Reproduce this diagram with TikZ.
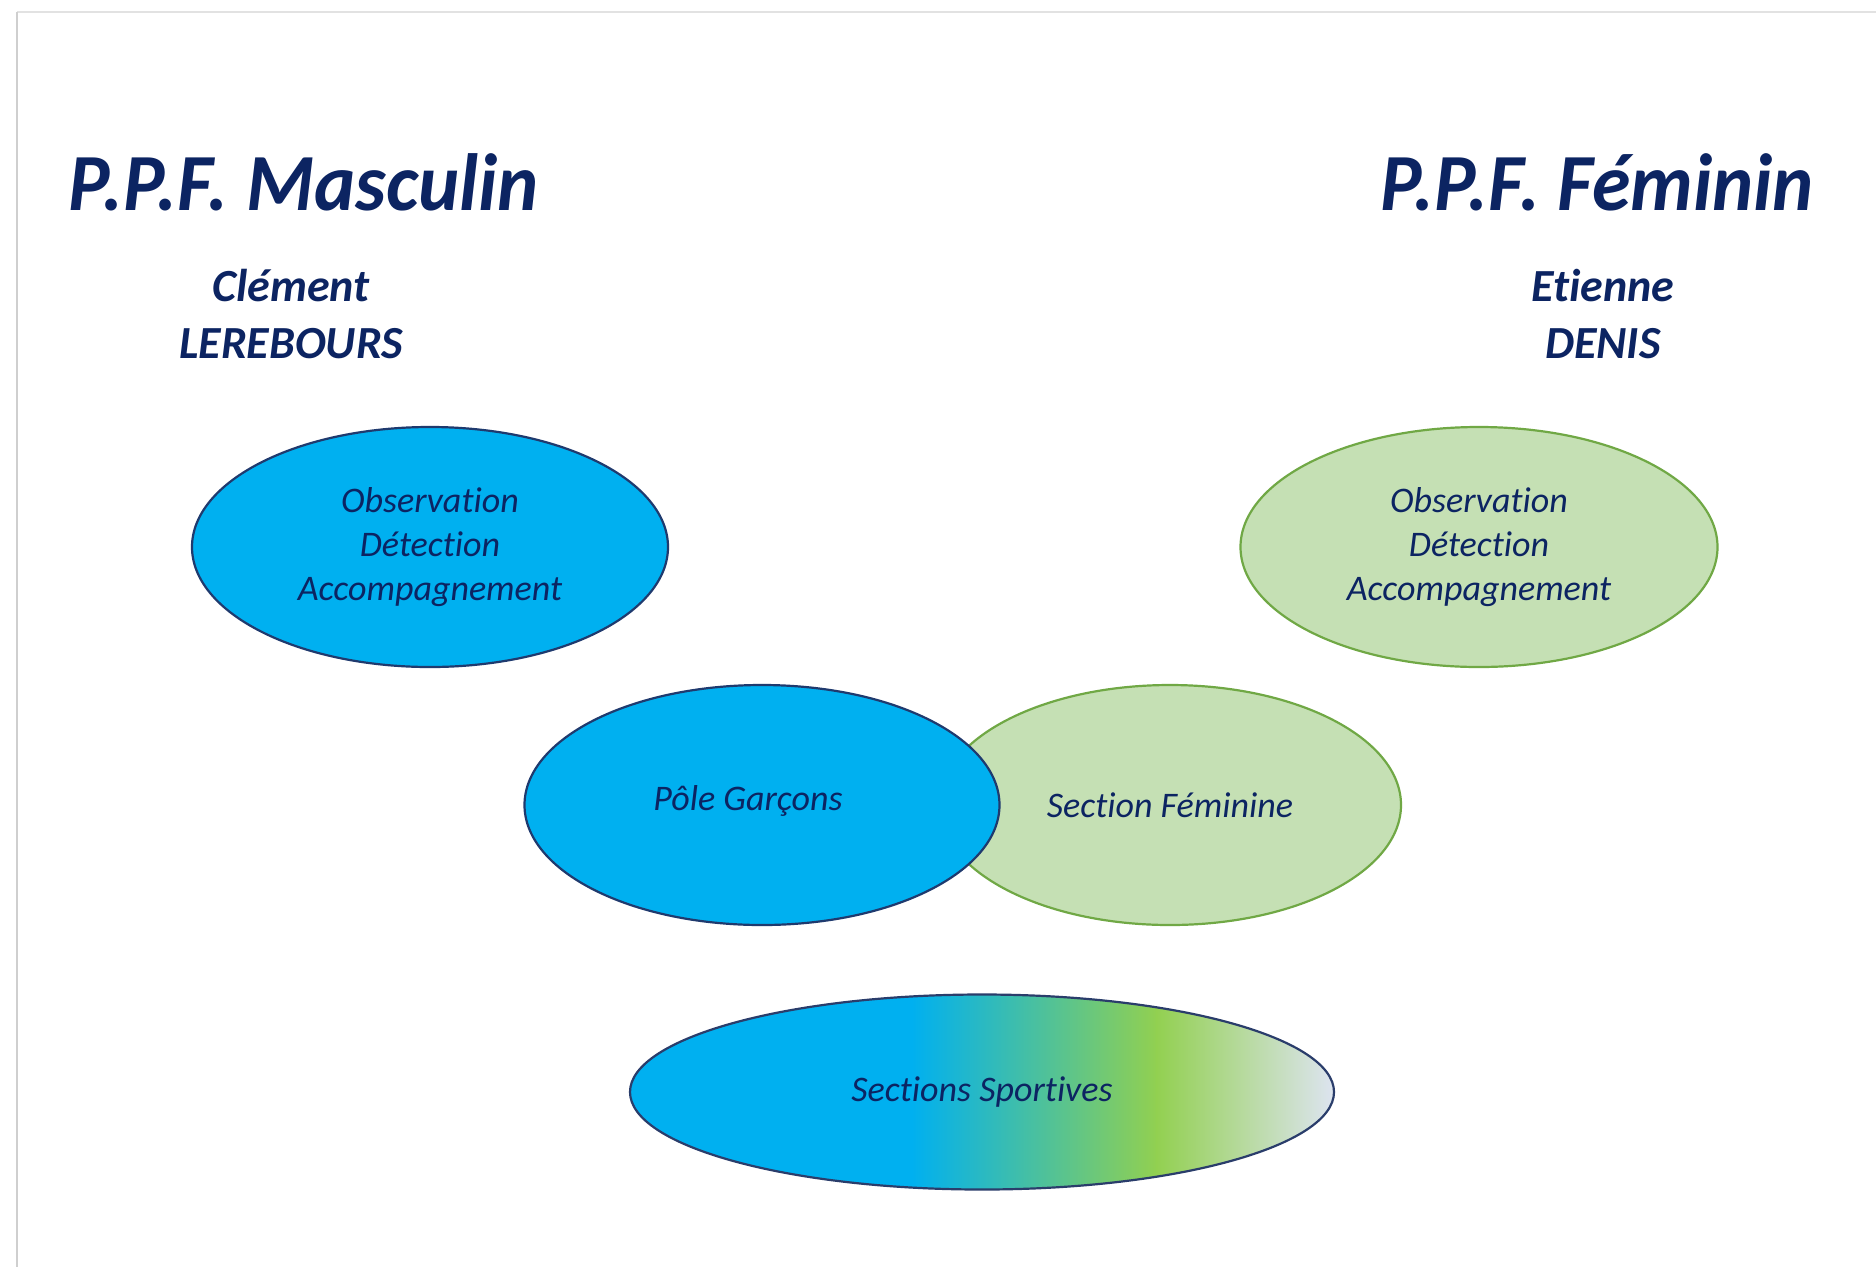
\documentclass[tikz,border=0pt]{standalone}
\usepackage{fontspec}
\setmainfont{Carlito}[Ligatures={NoCommon,NoRequired,NoContextual}]
\usetikzlibrary{shapes.geometric,calc}
\definecolor{cblue}{HTML}{00B0F0}
\definecolor{cblueline}{HTML}{1F3A6E}
\definecolor{cgreen}{HTML}{C5E0B4}
\definecolor{cgreenline}{HTML}{70A845}
\definecolor{ctext}{HTML}{0C2462}
\definecolor{cgradmid}{HTML}{92D050}
\definecolor{cgradend}{HTML}{DDE4F0}
\definecolor{cgradline}{HTML}{2A3D6B}
\definecolor{cframe}{HTML}{CFCFCF}
\definecolor{cframetop}{HTML}{E2E2E2}
\begin{document}
\begin{tikzpicture}[x=1pt,y=-1pt,
  oval/.style={ellipse, inner sep=0pt, line width=2.2pt, text=ctext, align=center,
    font=\fontsize{36}{44}\selectfont\itshape},
  blueoval/.style={oval, fill=cblue, draw=cblueline},
  greenoval/.style={oval, fill=cgreen, draw=cgreenline},
  title/.style={text=ctext, anchor=base, inner sep=0pt, yscale=1.04,
    font=\fontsize{78}{90}\selectfont\bfseries\itshape},
  person/.style={text=ctext, anchor=base, inner sep=0pt,
    font=\fontsize{46}{57}\selectfont\bfseries\itshape},
  ovaltext/.style={text=ctext, anchor=base, inner sep=0pt,
    font=\fontsize{36}{44}\selectfont\itshape}]
\useasboundingbox (0,0) rectangle (1876,1267);
\fill[white] (0,0) rectangle (1876,1267);
% frame
\coordinate (ftl) at (17,12);
\coordinate (fbl) at (17,1267);
\coordinate (ftr) at (1876,12);
\draw[cframetop, line width=1.5pt] (ftl) -- (ftr);
\draw[cframe, line width=2.5pt] (ftl) -- (fbl);
% titles
\node[title] (tmasc) at (304,210) {P.P.F. Masculin};
\node[title] (tfem) at (1597,210) {P.P.F. Féminin};
\node[person] (clement) at (291,301) {Clément};
\node[person] (lerebours) at (291,358) {LEREBOURS};
\node[person] (etienne) at (1603,301) {Etienne};
\node[person] (denis) at (1603,358) {DENIS};
% top ellipses
\node[blueoval, minimum width=476pt, minimum height=240pt] (obsm) at (430,547)
  {Observation\\Détection\\Accompagnement};
\node[greenoval, minimum width=477pt, minimum height=240pt] (obsf) at (1479,547)
  {Observation\\Détection\\Accompagnement};
% middle ellipses
\node[greenoval, minimum width=462pt, minimum height=240pt] (secfem) at (1170,805)
  {Section Féminine};
\node[blueoval, minimum width=475pt, minimum height=240pt] (pole) at (762,805) {};
\node[ovaltext] (poletext) at (748,810) {Pôle Garçons};
% bottom gradient ellipse
\node[oval, draw=cgradline, minimum width=704pt, minimum height=195pt,
  path picture={
    \coordinate (ppsw) at (path picture bounding box.south west);
    \coordinate (ppne) at (path picture bounding box.north east);
    \coordinate (pa) at ($(ppsw)!0.40!(ppne)$);
    \coordinate (pb) at ($(ppsw)!0.403!(ppne)$);
    \coordinate (pc) at ($(ppsw)!0.75!(ppne)$);
    \coordinate (pd) at ($(ppsw)!0.747!(ppne)$);
    \fill[cblue] (ppsw) rectangle (pb |- ppne);
    \shade[left color=cblue, right color=cgradmid] (pa |- ppsw) rectangle (pc |- ppne);
    \shade[left color=cgradmid, right color=cgradend] (pd |- ppsw) rectangle (ppne);
  }] (sport) at (982,1092) {Sections Sportives};
\end{tikzpicture}
\end{document}
